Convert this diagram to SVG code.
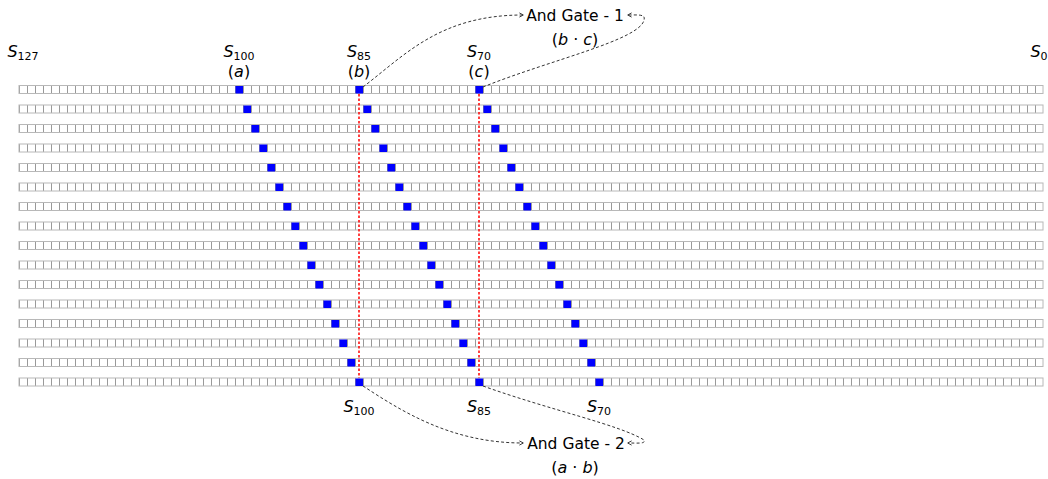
<svg xmlns="http://www.w3.org/2000/svg" width="1048" height="479" viewBox="0 0 1048 479">
<style>
text{font-family:"DejaVu Sans","Liberation Sans",sans-serif;fill:#000}
.lbl{font-size:16px}
.sub{font-size:11px}
.it{font-style:italic}
.gate{font-size:15.5px}
.row{fill:url(#cells);stroke:#b8b8b8;stroke-width:1}
.bit{fill:#0000ff}
.dash{fill:none;stroke:#333;stroke-width:1;stroke-dasharray:3 2.2}
.red{fill:none;stroke:#ff0000;stroke-width:1.5;stroke-dasharray:2.5 2}
</style>
<defs>
<pattern id="cells" patternUnits="userSpaceOnUse" x="19" y="0" width="8" height="479">
<rect x="0" y="0" width="8" height="479" fill="#fff"/>
<line x1="0.5" y1="0" x2="0.5" y2="479" stroke="#999" stroke-width="1"/>
</pattern>
<marker id="arr" viewBox="0 0 10 10" refX="8" refY="5" markerWidth="6" markerHeight="6" orient="auto" markerUnits="userSpaceOnUse">
<path d="M2,1.5 L8.5,5 L2,8.5" fill="none" stroke="#333" stroke-width="1.6"/>
</marker>
</defs>

<g id="grid">
<rect class="row" x="19" y="85.5" width="1024" height="8"/>
<rect class="row" x="19" y="105" width="1024" height="8"/>
<rect class="row" x="19" y="124.5" width="1024" height="8"/>
<rect class="row" x="19" y="144" width="1024" height="8"/>
<rect class="row" x="19" y="163.5" width="1024" height="8"/>
<rect class="row" x="19" y="183" width="1024" height="8"/>
<rect class="row" x="19" y="202.5" width="1024" height="8"/>
<rect class="row" x="19" y="222" width="1024" height="8"/>
<rect class="row" x="19" y="241.5" width="1024" height="8"/>
<rect class="row" x="19" y="261" width="1024" height="8"/>
<rect class="row" x="19" y="280.5" width="1024" height="8"/>
<rect class="row" x="19" y="300" width="1024" height="8"/>
<rect class="row" x="19" y="319.5" width="1024" height="8"/>
<rect class="row" x="19" y="339" width="1024" height="8"/>
<rect class="row" x="19" y="358.5" width="1024" height="8"/>
<rect class="row" x="19" y="378" width="1024" height="8"/>
</g>

<g id="bits-a">
<rect class="bit" x="235.5" y="86" width="7.5" height="7.5"/>
<rect class="bit" x="243.5" y="105.5" width="7.5" height="7.5"/>
<rect class="bit" x="251.5" y="125" width="7.5" height="7.5"/>
<rect class="bit" x="259.5" y="144.5" width="7.5" height="7.5"/>
<rect class="bit" x="267.5" y="164" width="7.5" height="7.5"/>
<rect class="bit" x="275.5" y="183.5" width="7.5" height="7.5"/>
<rect class="bit" x="283.5" y="203" width="7.5" height="7.5"/>
<rect class="bit" x="291.5" y="222.5" width="7.5" height="7.5"/>
<rect class="bit" x="299.5" y="242" width="7.5" height="7.5"/>
<rect class="bit" x="307.5" y="261.5" width="7.5" height="7.5"/>
<rect class="bit" x="315.5" y="281" width="7.5" height="7.5"/>
<rect class="bit" x="323.5" y="300.5" width="7.5" height="7.5"/>
<rect class="bit" x="331.5" y="320" width="7.5" height="7.5"/>
<rect class="bit" x="339.5" y="339.5" width="7.5" height="7.5"/>
<rect class="bit" x="347.5" y="359" width="7.5" height="7.5"/>
<rect class="bit" x="355.5" y="378.5" width="7.5" height="7.5"/>
</g>
<g id="bits-b">
<rect class="bit" x="355.5" y="86" width="7.5" height="7.5"/>
<rect class="bit" x="363.5" y="105.5" width="7.5" height="7.5"/>
<rect class="bit" x="371.5" y="125" width="7.5" height="7.5"/>
<rect class="bit" x="379.5" y="144.5" width="7.5" height="7.5"/>
<rect class="bit" x="387.5" y="164" width="7.5" height="7.5"/>
<rect class="bit" x="395.5" y="183.5" width="7.5" height="7.5"/>
<rect class="bit" x="403.5" y="203" width="7.5" height="7.5"/>
<rect class="bit" x="411.5" y="222.5" width="7.5" height="7.5"/>
<rect class="bit" x="419.5" y="242" width="7.5" height="7.5"/>
<rect class="bit" x="427.5" y="261.5" width="7.5" height="7.5"/>
<rect class="bit" x="435.5" y="281" width="7.5" height="7.5"/>
<rect class="bit" x="443.5" y="300.5" width="7.5" height="7.5"/>
<rect class="bit" x="451.5" y="320" width="7.5" height="7.5"/>
<rect class="bit" x="459.5" y="339.5" width="7.5" height="7.5"/>
<rect class="bit" x="467.5" y="359" width="7.5" height="7.5"/>
<rect class="bit" x="475.5" y="378.5" width="7.5" height="7.5"/>
</g>
<g id="bits-c">
<rect class="bit" x="475.5" y="86" width="7.5" height="7.5"/>
<rect class="bit" x="483.5" y="105.5" width="7.5" height="7.5"/>
<rect class="bit" x="491.5" y="125" width="7.5" height="7.5"/>
<rect class="bit" x="499.5" y="144.5" width="7.5" height="7.5"/>
<rect class="bit" x="507.5" y="164" width="7.5" height="7.5"/>
<rect class="bit" x="515.5" y="183.5" width="7.5" height="7.5"/>
<rect class="bit" x="523.5" y="203" width="7.5" height="7.5"/>
<rect class="bit" x="531.5" y="222.5" width="7.5" height="7.5"/>
<rect class="bit" x="539.5" y="242" width="7.5" height="7.5"/>
<rect class="bit" x="547.5" y="261.5" width="7.5" height="7.5"/>
<rect class="bit" x="555.5" y="281" width="7.5" height="7.5"/>
<rect class="bit" x="563.5" y="300.5" width="7.5" height="7.5"/>
<rect class="bit" x="571.5" y="320" width="7.5" height="7.5"/>
<rect class="bit" x="579.5" y="339.5" width="7.5" height="7.5"/>
<rect class="bit" x="587.5" y="359" width="7.5" height="7.5"/>
<rect class="bit" x="595.5" y="378.5" width="7.5" height="7.5"/>
</g>

<g id="taps">
<line class="red" x1="359" y1="94" x2="359" y2="378"/>
<line class="red" x1="479" y1="94" x2="479" y2="378"/>
</g>

<g id="labels-top">
<text class="lbl" x="23" y="57" text-anchor="middle"><tspan class="it">S</tspan><tspan class="sub" dy="3">127</tspan></text>
<text class="lbl" x="239" y="57" text-anchor="middle"><tspan class="it">S</tspan><tspan class="sub" dy="3">100</tspan></text>
<text class="lbl" x="239" y="77" text-anchor="middle">(<tspan class="it">a</tspan>)</text>
<text class="lbl" x="359" y="57" text-anchor="middle"><tspan class="it">S</tspan><tspan class="sub" dy="3">85</tspan></text>
<text class="lbl" x="359" y="77" text-anchor="middle">(<tspan class="it">b</tspan>)</text>
<text class="lbl" x="479" y="57" text-anchor="middle"><tspan class="it">S</tspan><tspan class="sub" dy="3">70</tspan></text>
<text class="lbl" x="479" y="77" text-anchor="middle">(<tspan class="it">c</tspan>)</text>
<text class="lbl" x="1039" y="57" text-anchor="middle"><tspan class="it">S</tspan><tspan class="sub" dy="3">0</tspan></text>
</g>

<g id="labels-bottom">
<text class="lbl" x="359" y="412" text-anchor="middle"><tspan class="it">S</tspan><tspan class="sub" dy="3">100</tspan></text>
<text class="lbl" x="479" y="412" text-anchor="middle"><tspan class="it">S</tspan><tspan class="sub" dy="3">85</tspan></text>
<text class="lbl" x="599" y="412" text-anchor="middle"><tspan class="it">S</tspan><tspan class="sub" dy="3">70</tspan></text>
</g>

<g id="gate-1">
<text class="gate" x="575" y="20.5" text-anchor="middle">And Gate - 1</text>
<text class="lbl" x="575" y="45" text-anchor="middle">(<tspan class="it">b</tspan> · <tspan class="it">c</tspan>)</text>
</g>
<g id="gate-2">
<text class="gate" x="576" y="449" text-anchor="middle">And Gate - 2</text>
<text class="lbl" x="575" y="473" text-anchor="middle">(<tspan class="it">a</tspan> · <tspan class="it">b</tspan>)</text>
</g>

<g id="connectors">
<path class="dash" d="M363,87 C405,55 440,15 523,15" marker-end="url(#arr)"/>
<path class="dash" d="M483,87 C550,60 640,40 644,20 C646,14 638,15 628,15" marker-end="url(#arr)"/>
<path class="dash" d="M363,386 C400,410 450,443 523,443" marker-end="url(#arr)"/>
<path class="dash" d="M483,386 C550,410 620,425 644,440 C646,444 638,443 628,443" marker-end="url(#arr)"/>
</g>
</svg>
